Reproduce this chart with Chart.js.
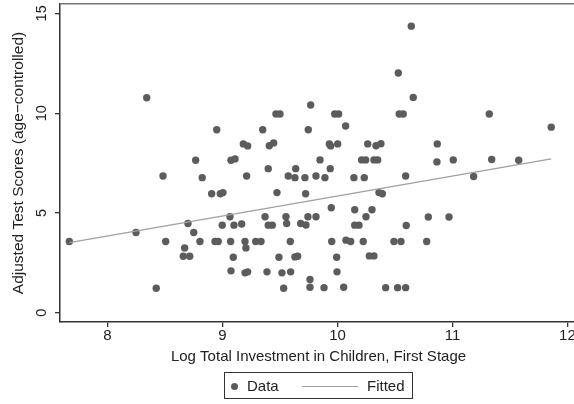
<!DOCTYPE html>
<html lang="en">
<head>
  <meta charset="UTF-8">
  <title>Test Scores vs Investment</title>
  <script src="https://cdn.jsdelivr.net/npm/chart.js"></script>
  <style>
    html, body { margin: 0; padding: 0; background: #fff; }
    body { font-family: 'Liberation Sans', Arial, sans-serif; }
    .wrap { position: relative; width: 574px; height: 404px; overflow: hidden; }
    canvas { position: absolute; left: 0; top: 0; }
    .legend {
      position: absolute; left: 224px; top: 372px; width: 187px; height: 25px;
      border: 1px solid #333; font-size: 15px; color: #222;
    }
    .legend span { position: absolute; top: 4px; line-height: 17px; }
    .legend .dot { position: absolute; left: 6px; top: 10px; width: 7px; height: 7px; border-radius: 50%; background: #5c5c5c; }
    .legend .ln { position: absolute; left: 77px; top: 13px; width: 56px; height: 0; border-top: 1.3px solid #a0a0a0; }
  </style>
</head>
<body>
<div class="wrap">
  <canvas id="chart" width="600" height="404"></canvas>
  <div class="legend">
    <div class="dot"></div><span style="left:22px">Data</span>
    <div class="ln"></div><span style="left:142px">Fitted</span>
  </div>
</div>

<script>
// log total investment (x) and adjusted test score (y)
const investX = [
  8.341, 9.767, 9.465, 9.500, 8.950, 9.350, 9.746, 9.181, 9.219, 9.407,
  9.445, 8.767, 9.074, 9.109, 9.398, 9.637, 9.848, 10.642, 10.529, 10.659,
  9.976, 10.010, 10.537, 10.572, 11.320, 10.071, 11.859, 9.929, 9.941, 10.002,
  10.263, 10.335, 10.378, 10.868, 9.937, 10.210, 10.245, 10.317, 10.350, 10.865,
  11.007, 11.341, 11.576, 8.483, 8.824, 9.210, 9.572, 9.630, 9.717, 9.813,
  8.906, 8.981, 9.004, 9.474, 9.723, 9.065, 8.700, 8.998, 9.100, 9.167,
  9.370, 9.398, 9.433, 9.552, 9.558, 9.680, 9.726, 9.743, 9.813, 7.668,
  8.248, 8.750, 8.506, 8.804, 8.935, 8.963, 9.071, 9.196, 9.204, 9.289,
  9.335, 9.590, 8.671, 8.659, 8.715, 9.094, 9.491, 9.630, 9.654, 9.074,
  9.196, 9.219, 9.387, 9.517, 9.593, 9.761, 9.761, 8.424, 9.532, 9.891,
  10.143, 10.233, 10.593, 11.184, 10.361, 10.390, 9.946, 10.150, 10.300, 10.248,
  10.150, 10.187, 10.598, 10.790, 10.970, 9.950, 10.074, 10.115, 10.224, 10.491,
  10.552, 10.776, 9.993, 10.277, 10.317, 9.996, 9.883, 10.054, 10.419, 10.523,
  10.593
];
const scoreY = [
  10.77, 10.41, 9.96, 9.96, 9.17, 9.17, 9.17, 8.46, 8.36, 8.37,
  8.51, 7.64, 7.64, 7.71, 7.22, 7.22, 7.66, 14.36, 12.01, 10.79,
  9.96, 9.96, 9.96, 9.96, 9.96, 9.36, 9.30, 8.46, 8.36, 8.46,
  8.46, 8.37, 8.47, 8.46, 7.22, 7.66, 7.66, 7.66, 7.66, 7.56,
  7.66, 7.68, 7.64, 6.85, 6.77, 6.85, 6.85, 6.77, 6.77, 6.85,
  5.96, 5.96, 6.02, 6.02, 5.96, 4.81, 4.47, 4.39, 4.39, 4.45,
  4.81, 4.39, 4.39, 4.81, 4.47, 4.47, 4.40, 4.81, 4.81, 3.57,
  4.02, 4.02, 3.57, 3.57, 3.57, 3.57, 3.57, 3.57, 3.25, 3.57,
  3.57, 3.57, 3.25, 2.83, 2.83, 2.78, 2.78, 2.80, 2.83, 2.10,
  2.00, 2.05, 2.05, 2.00, 2.05, 1.67, 1.28, 1.23, 1.23, 6.77,
  6.77, 6.77, 6.85, 6.83, 6.02, 5.96, 5.26, 5.16, 5.16, 4.81,
  4.39, 4.39, 4.37, 4.80, 4.80, 3.57, 3.64, 3.57, 3.57, 3.57,
  3.57, 3.57, 2.78, 2.85, 2.85, 2.05, 1.26, 1.28, 1.26, 1.26,
  1.26
];
// fitted line end points
const fitX = [7.668, 11.859];
const fitY = [3.52, 7.71];

const xTicks = [8, 9, 10, 11, 12];
const yTicks = [0, 5, 10, 15];

const FONT = 'Liberation Sans';

// y tick labels are drawn rotated, as in the original
const rotatedYLabels = {
  id: 'rotatedYLabels',
  afterDraw(chart) {
    const s = chart.scales.y;
    const ctx = chart.ctx;
    ctx.save();
    ctx.font = '14.5px "' + FONT + '"';
    ctx.fillStyle = '#222';
    ctx.textAlign = 'center';
    ctx.textBaseline = 'middle';
    s.ticks.forEach(t => {
      ctx.save();
      ctx.translate(s.right - 18, s.getPixelForValue(t.value));
      ctx.rotate(-Math.PI / 2);
      ctx.fillText(String(t.value), 0, 0);
      ctx.restore();
    });
    // top frame line
    const a = chart.chartArea;
    ctx.strokeStyle = '#777';
    ctx.lineWidth = 1.5;
    ctx.beginPath();
    ctx.moveTo(a.left, a.top - 0.25);
    ctx.lineTo(a.right, a.top - 0.25);
    ctx.stroke();
    ctx.restore();
  }
};

new Chart(document.getElementById('chart'), {
  type: 'scatter',
  data: {
    datasets: [
      {
        label: 'Fitted',
        type: 'line',
        data: fitX.map((x, i) => ({x: x, y: fitY[i]})),
        borderColor: '#a0a0a0',
        borderWidth: 1.3,
        pointRadius: 0,
        fill: false,
        order: 0
      },
      {
        label: 'Data',
        data: investX.map((x, i) => ({x: x, y: scoreY[i]})),
        backgroundColor: '#5c5c5c',
        borderWidth: 0,
        pointRadius: 3.7,
        order: 1
      }
    ]
  },
  options: {
    responsive: false,
    devicePixelRatio: 1,
    animation: false,
    layout: { padding: { top: 1, right: 23, left: 0, bottom: 0 } },
    plugins: { legend: { display: false }, tooltip: { enabled: false } },
    scales: {
      x: {
        type: 'linear',
        min: 7.587, max: 12.083,
        afterBuildTicks: s => { s.ticks = xTicks.map(v => ({value: v})); },
        afterFit: s => { s.height = 82; },
        grid: { display: true, drawOnChartArea: false, drawTicks: true, tickLength: 5, color: '#333', lineWidth: 1.3 },
        border: { color: '#333', width: 1.5 },
        ticks: { color: '#222', font: { family: FONT, size: 15 }, padding: 0, maxRotation: 0 },
        title: {
          display: true,
          text: 'Log Total Investment in Children, First Stage',
          color: '#222',
          font: { family: FONT, size: 15 },
          padding: { top: 0, bottom: 38 }
        }
      },
      y: {
        type: 'linear',
        min: -0.4615, max: 15.469,
        afterBuildTicks: s => { s.ticks = yTicks.map(v => ({value: v})); },
        afterFit: s => { s.width = 60; },
        grid: { display: true, drawOnChartArea: false, drawTicks: true, tickLength: 5, color: '#333', lineWidth: 1.3 },
        border: { color: '#333', width: 1.5 },
        ticks: { display: false },
        title: {
          display: true,
          text: 'Adjusted Test Scores (age\u2212controlled)',
          color: '#222',
          font: { family: FONT, size: 15.5 },
          padding: { top: 9, bottom: 0 }
        }
      }
    }
  },
  plugins: [rotatedYLabels]
});
</script>
</body>
</html>
